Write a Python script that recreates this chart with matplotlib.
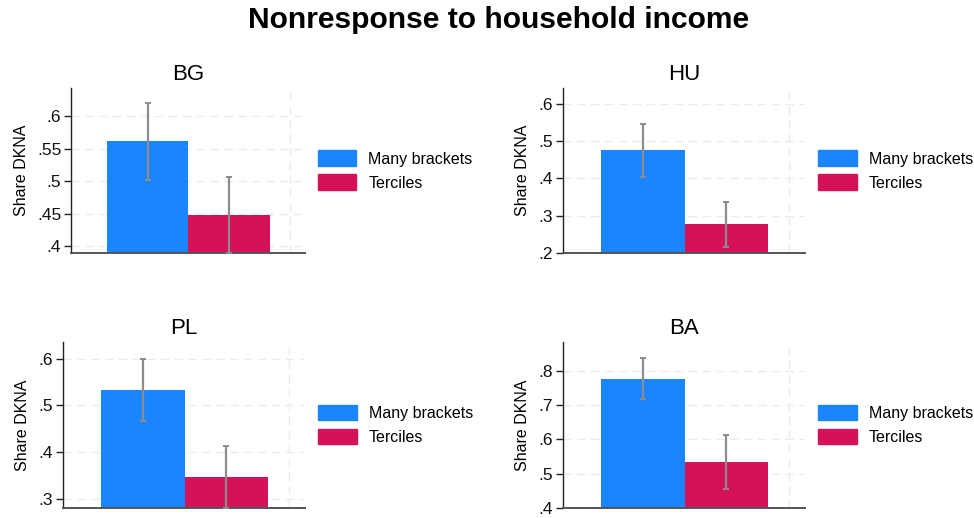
import numpy as np
import matplotlib.pyplot as plt
from matplotlib.patches import Patch
from matplotlib.ticker import FuncFormatter

plt.rcParams['font.family'] = ['Liberation Sans', 'DejaVu Sans']

# share of "don't know / no answer" on household income, by question format
countries = ["BG", "HU", "PL", "BA"]
many_mean = [0.562, 0.475, 0.534, 0.776]
many_lo = [0.502, 0.403, 0.466, 0.717]
many_hi = [0.620, 0.546, 0.600, 0.835]
terc_mean = [0.449, 0.277, 0.346, 0.535]
terc_lo = [0.390, 0.216, 0.279, 0.456]
terc_hi = [0.507, 0.337, 0.413, 0.611]
series_labels = ["Many brackets", "Terciles"]

# y ranges and tick marks per panel
ylims = [(0.39, 0.643), (0.2, 0.642), (0.28, 0.636), (0.4, 0.883)]
yticks = [[0.4, 0.45, 0.5, 0.55, 0.6],
          [0.2, 0.3, 0.4, 0.5, 0.6],
          [0.3, 0.4, 0.5, 0.6],
          [0.4, 0.5, 0.6, 0.7, 0.8]]

BLUE = '#1a85ff'
RED = '#d41159'
ERR = '#8c8c8c'

W, H = 974, 518
fig = plt.figure(figsize=(W / 100, H / 100), dpi=100)

# panel boxes in pixels: left, top, right, bottom
boxes = [(71, 88, 305, 253),
         (563, 88, 805, 253),
         (63, 342, 305, 508),
         (563, 342, 805, 508)]


def stata_fmt(v, pos):
    s = f"{v:g}"
    return s[1:] if s.startswith("0") else s


for i, c in enumerate(countries):
    l, t, r, b = boxes[i]
    ax = fig.add_axes([l / W, 1 - b / H, (r - l) / W, (b - t) / H])

    x = np.array([1.0, 2.0])
    means = [many_mean[i], terc_mean[i]]
    lo = [many_lo[i], terc_lo[i]]
    hi = [many_hi[i], terc_hi[i]]
    ax.bar(x, means, width=1.0, color=[BLUE, RED], zorder=2)
    yerr = [np.array(means) - np.array(lo), np.array(hi) - np.array(means)]
    ax.errorbar(x, means, yerr=yerr, fmt='none', ecolor=ERR, elinewidth=1.6,
                capsize=2, capthick=1.4, zorder=3)

    ax.set_xlim(0.053, 2.935)
    ax.set_ylim(*ylims[i])
    ax.set_yticks(yticks[i])
    ax.yaxis.set_major_formatter(FuncFormatter(stata_fmt))
    ax.set_xticks([])

    ax.grid(axis='y', color='#ebebeb', linestyle=(0, (6, 4)), linewidth=1.0, zorder=0)
    ax.axvline(2.75, color='#ebebeb', linestyle=(0, (6, 4)), linewidth=1.0, zorder=0)

    for s in ['top', 'right']:
        ax.spines[s].set_visible(False)
    ax.spines['left'].set_color('#222222')
    ax.spines['left'].set_linewidth(1.0)
    ax.spines['bottom'].set_color('#555555')
    ax.spines['bottom'].set_linewidth(1.4)
    ax.tick_params(axis='y', length=5, width=1.0, color='#222222',
                   labelsize=12.5, pad=2, labelcolor='#111111')

    ax.set_ylabel("Share DKNA", fontsize=11.5, labelpad=6)
    ax.set_title(c, fontsize=16, pad=6)

    handles = [Patch(color=BLUE), Patch(color=RED)]
    ax.legend(handles, series_labels, loc='center left', bbox_to_anchor=(1.055, 0.5),
              frameon=False, fontsize=11.5, handlelength=2.4, handleheight=1.1,
              handletextpad=0.75, labelspacing=0.5, borderpad=0, borderaxespad=0)

fig.text(0.512, 0.962, "Nonresponse to household income", fontsize=21.6,
         fontweight='bold', ha='center', va='center')

fig.savefig("out.png", dpi=100)
